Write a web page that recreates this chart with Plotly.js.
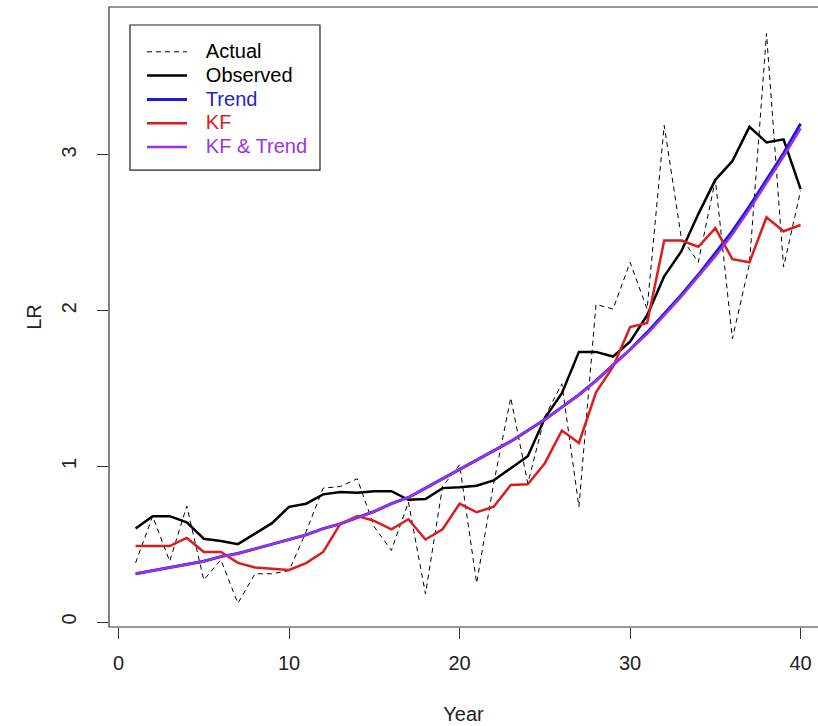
<!DOCTYPE html>
<html>
<head>
<meta charset="utf-8">
<script src="https://cdn.plot.ly/plotly-3.0.1.min.js"></script>
<style>html,body{margin:0;padding:0;background:#fff;}#chart{width:818px;height:726px;}</style>
</head>
<body>
<div id="chart"></div>
<script>
const years = [1,2,3,4,5,6,7,8,9,10,11,12,13,14,15,16,17,18,19,20,21,22,23,24,25,26,27,28,29,30,31,32,33,34,35,36,37,38,39,40];
const actual = [0.38,0.68,0.39,0.745,0.27,0.40,0.12,0.31,0.31,0.33,0.58,0.86,0.87,0.92,0.61,0.46,0.77,0.18,0.87,1.01,0.25,0.89,1.44,0.89,1.32,1.53,0.74,2.04,2.01,2.31,2.01,3.19,2.47,2.31,2.84,1.82,2.30,3.78,2.28,2.77];
const observed = [0.60,0.68,0.68,0.64,0.535,0.52,0.50,0.57,0.635,0.74,0.76,0.82,0.835,0.83,0.84,0.84,0.785,0.79,0.86,0.865,0.875,0.91,0.99,1.065,1.31,1.47,1.735,1.735,1.705,1.80,1.97,2.22,2.38,2.62,2.84,2.96,3.18,3.08,3.10,2.78];
const trend = [0.31,0.33,0.35,0.37,0.39,0.42,0.44,0.47,0.50,0.53,0.56,0.60,0.63,0.67,0.71,0.76,0.80,0.86,0.92,0.98,1.04,1.10,1.16,1.23,1.30,1.38,1.46,1.55,1.65,1.75,1.86,1.98,2.10,2.23,2.37,2.51,2.67,2.84,3.01,3.20];
const kf = [0.488,0.49,0.488,0.54,0.45,0.45,0.38,0.35,0.34,0.334,0.378,0.45,0.63,0.68,0.65,0.595,0.66,0.53,0.595,0.76,0.705,0.74,0.88,0.885,1.02,1.23,1.15,1.475,1.64,1.895,1.92,2.45,2.45,2.41,2.53,2.33,2.31,2.60,2.51,2.55];
const kfTrend = [0.31,0.33,0.35,0.37,0.39,0.42,0.44,0.47,0.50,0.53,0.56,0.60,0.63,0.67,0.71,0.76,0.80,0.86,0.92,0.98,1.04,1.10,1.16,1.23,1.30,1.38,1.46,1.55,1.65,1.75,1.85,1.97,2.09,2.22,2.35,2.49,2.65,2.82,2.99,3.17];
const xTicks = [0,10,20,30,40];
const yTicks = [0,1,2,3];
const names = ['Actual', 'Observed', 'Trend', 'KF', 'KF &amp; Trend'];
const nameColors = ['#000', '#000', '#2222cc', '#dd1c1c', '#a032e6'];

const FONT = "'Liberation Sans', Arial, Helvetica, sans-serif";
const label = i => '<span style="font-size:25px">&nbsp;&nbsp;</span><span style="font-size:20px;fill:' + nameColors[i] + '">' + names[i] + '</span>';
const traces = [
  {x: years, y: actual, name: label(0), mode: 'lines', line: {color: '#000', width: 1, dash: '5px,4px'}},
  {x: years, y: observed, name: label(1), mode: 'lines', line: {color: '#000', width: 2.5}},
  {x: years, y: trend, name: label(2), mode: 'lines', line: {color: '#1a1ad8', width: 3}},
  {x: years, y: kf, name: label(3), mode: 'lines', line: {color: '#dd1c1c', width: 2.5}},
  {x: years, y: kfTrend, name: label(4), mode: 'lines', line: {color: '#9a30e8', width: 2.5}}
];

const layout = {
  width: 818, height: 726,
  margin: {l: 109, r: 0, t: 7, b: 99, pad: 0},
  paper_bgcolor: '#fff', plot_bgcolor: '#fff',
  font: {family: FONT, size: 20, color: '#222'},
  showlegend: true,
  hovermode: false,
  xaxis: {
    range: [-0.56, 41.02], tickvals: xTicks, ticktext: xTicks.map(String),
    ticks: 'outside', ticklen: 11, tickwidth: 1, tickcolor: '#333',
    ticklabelstandoff: 7,
    showgrid: false, zeroline: false, showline: false,
    tickfont: {family: FONT, size: 20, color: '#222'},
    title: {text: 'Year', font: {family: FONT, size: 20, color: '#222'}, standoff: 33},
    automargin: false
  },
  yaxis: {
    range: [-0.032, 3.95], tickvals: yTicks, ticktext: yTicks.map(String),
    ticks: 'outside', ticklen: 11, tickwidth: 1, tickcolor: '#333',
    tickangle: -90, ticklabelstandoff: 13,
    showgrid: false, zeroline: false, showline: false,
    tickfont: {family: FONT, size: 20, color: '#222'},
    title: {text: 'LR', font: {family: FONT, size: 20, color: '#222'}, standoff: 11},
    automargin: false
  },
  legend: {
    x: 0.0465, y: 0.955, xanchor: 'left', yanchor: 'top',
    bgcolor: 'rgba(0,0,0,0)', borderwidth: 0,
    font: {family: FONT, size: 16, color: '#000'},
    itemwidth: 40,
    tracegroupgap: 0
  },
  shapes: [
    {type: 'rect', xref: 'paper', yref: 'paper', x0: 0, x1: 1.05, y0: 0, y1: 1,
     line: {color: '#333', width: 1.2}, fillcolor: 'rgba(0,0,0,0)', layer: 'above'},
    {type: 'rect', xref: 'paper', yref: 'paper', x0: 0.0296, x1: 0.2976, y0: 0.737, y1: 0.971,
     line: {color: '#222', width: 1.2}, fillcolor: 'rgba(0,0,0,0)', layer: 'above'}
  ]
};

Plotly.newPlot('chart', traces, layout, {displayModeBar: false, staticPlot: true});
</script>
</body>
</html>
